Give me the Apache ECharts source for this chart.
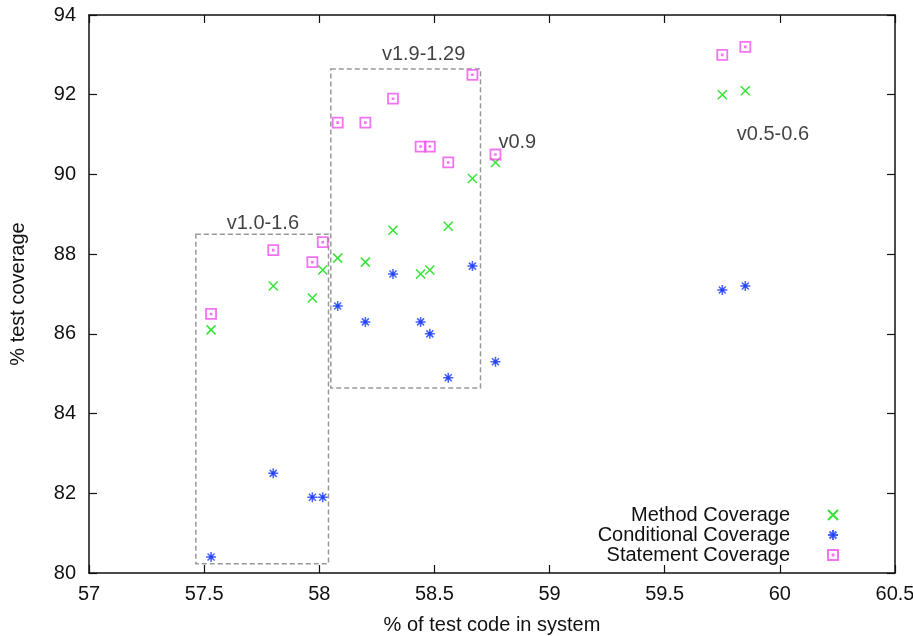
<!DOCTYPE html>
<html>
<head>
<meta charset="utf-8">
<script src="https://cdn.jsdelivr.net/npm/echarts@6/dist/echarts.min.js"></script>
<style>html,body{margin:0;padding:0;background:#fff}#c{width:913px;height:636px}</style>
</head>
<body>
<div id="c"></div>
<script>
// x positions (% of test code in system)
var xValues = [57.53, 57.80, 57.97, 58.015, 58.08, 58.20, 58.32, 58.44, 58.48, 58.56, 58.665, 58.765, 59.75, 59.85];
var methodCoverage = [86.1, 87.2, 86.9, 87.6, 87.9, 87.8, 88.6, 87.5, 87.6, 88.7, 89.9, 90.3, 92.0, 92.1];
var conditionalCoverage = [80.4, 82.5, 81.9, 81.9, 86.7, 86.3, 87.5, 86.3, 86.0, 84.9, 87.7, 85.3, 87.1, 87.2];
var statementCoverage = [86.5, 88.1, 87.8, 88.3, 91.3, 91.3, 91.9, 90.7, 90.7, 90.3, 92.5, 90.5, 93.0, 93.2];
var seriesNames = ['Method Coverage', 'Conditional Coverage', 'Statement Coverage'];
var xTicks = [57, 57.5, 58, 58.5, 59, 59.5, 60, 60.5];
var yTicks = [80, 82, 84, 86, 88, 90, 92, 94];
// version annotations
var versionLabels = ['v1.0-1.6', 'v1.9-1.29', 'v0.9', 'v0.5-0.6'];
var versionLabelX = [57.755, 58.453, 58.86, 59.97];
var versionLabelY = [88.76, 93.02, 90.79, 91.01];
// dashed boxes [x1, y1, x2, y2]
var boxes = [[57.464, 88.5, 58.04, 80.23], [58.05, 92.645, 58.70, 84.64]];

function pairs(ys) { return xValues.map(function (x, i) { return [x, ys[i]]; }); }

var FONT = 'Liberation Sans, Arial, sans-serif';
var FS = 20;
var crossPath = 'path://M0,0L10,10M10,0L0,10';
var starPath = 'path://M5,0L5,10M0,5L10,5M1.5,1.5L8.5,8.5M8.5,1.5L1.5,8.5M3.5,3.5L6.5,3.5L6.5,6.5L3.5,6.5Z';
var squarePath = 'path://M0,0L10,0L10,10L0,10ZM4.6,4.6L5.4,4.6L5.4,5.4L4.6,5.4Z';
var colors = ['#00dd00', '#1a3cff', '#f050f0'];

var chart = echarts.init(document.getElementById('c'), null, { renderer: 'canvas' });

function mkLegend(name, top) {
  return {
    data: [name], orient: 'vertical', align: 'right', right: 74, top: top,
    itemWidth: 76, itemHeight: 10, itemGap: 0, padding: 0,
    textStyle: { fontFamily: FONT, fontSize: FS, color: '#111' },
    selectedMode: false
  };
}

var axisCommon = {
  axisLine: { lineStyle: { color: '#111', width: 1.5 } },
  axisTick: { inside: true, length: 8, lineStyle: { color: '#111', width: 1.2 } },
  splitLine: { show: false }
};

chart.setOption({
  animation: false,
  backgroundColor: '#fff',
  grid: { left: 89, right: 18, top: 15, bottom: 63, containLabel: false, outerBoundsMode: 'none' },
  legend: [mkLegend(seriesNames[0], 505), mkLegend(seriesNames[1], 525), mkLegend(seriesNames[2], 545)],
  xAxis: [
    Object.assign({
      type: 'value', min: xTicks[0], max: xTicks[xTicks.length - 1], interval: 0.5,
      name: '% of test code in system', nameLocation: 'middle', nameGap: 42,
      nameTextStyle: { fontFamily: FONT, fontSize: FS, color: '#111' },
      axisLabel: { fontFamily: FONT, fontSize: FS, color: '#111', margin: 11 }
    }, axisCommon),
    Object.assign({
      type: 'value', position: 'top', min: xTicks[0], max: xTicks[xTicks.length - 1], interval: 0.5,
      axisLabel: { show: false }
    }, axisCommon)
  ],
  yAxis: [
    Object.assign({
      type: 'value', min: yTicks[0], max: yTicks[yTicks.length - 1], interval: 2,
      name: '% test coverage', nameLocation: 'middle', nameGap: 61, nameRotate: 90,
      nameTextStyle: { fontFamily: FONT, fontSize: FS, color: '#111' },
      axisLabel: { fontFamily: FONT, fontSize: FS, color: '#111', margin: 13 }
    }, axisCommon),
    Object.assign({
      type: 'value', position: 'right', min: yTicks[0], max: yTicks[yTicks.length - 1], interval: 2,
      axisLabel: { show: false }
    }, axisCommon)
  ],
  series: [
    {
      name: seriesNames[0], type: 'scatter', data: pairs(methodCoverage),
      symbol: crossPath, symbolSize: 9,
      itemStyle: { color: 'rgba(0,0,0,0)', borderColor: colors[0], borderWidth: 1.5 }, z: 3
    },
    {
      name: seriesNames[1], type: 'scatter', data: pairs(conditionalCoverage),
      symbol: starPath, symbolSize: 10,
      itemStyle: { color: colors[1], borderColor: colors[1], borderWidth: 1.5 }, z: 3
    },
    {
      name: seriesNames[2], type: 'scatter', data: pairs(statementCoverage),
      symbol: squarePath, symbolSize: 10,
      itemStyle: { color: 'rgba(0,0,0,0)', borderColor: colors[2], borderWidth: 1.8 }, z: 3
    },
    {
      name: 'annotations', type: 'scatter', silent: true, symbolSize: 0,
      data: versionLabels.map(function (t, i) { return { value: [versionLabelX[i], versionLabelY[i]], name: t }; }),
      label: {
        show: true, position: [0, 0], align: 'center', verticalAlign: 'middle',
        formatter: function (p) { return p.name; },
        fontFamily: FONT, fontSize: FS, color: '#111'
      },
      markArea: {
        silent: true,
        itemStyle: { color: 'rgba(0,0,0,0)', borderColor: '#999', borderWidth: 1.5, borderType: [5, 3] },
        data: boxes.map(function (b) { return [{ coord: [b[0], b[1]] }, { coord: [b[2], b[3]] }]; })
      }
    }
  ]
});
</script>
</body>
</html>
